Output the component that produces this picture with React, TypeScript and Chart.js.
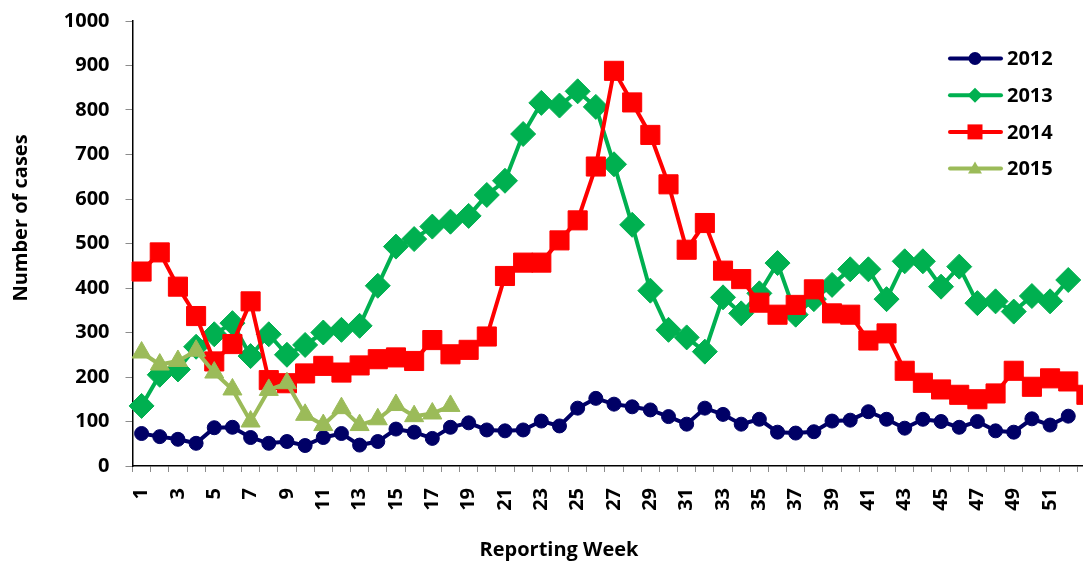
import React, { useEffect, useRef } from 'react';
import { Chart, registerables } from 'chart.js';

Chart.register(...registerables);

const weeks = ['1','2','3','4','5','6','7','8','9','10','11','12','13','14','15','16','17','18','19','20','21','22','23','24','25','26','27','28','29','30','31','32','33','34','35','36','37','38','39','40','41','42','43','44','45','46','47','48','49','50','51','52','53'];

const cases2012 = [73,66,60,51,86,87,64,51,55,46,64,73,47,55,83,76,62,87,97,81,79,81,101,90,130,152,139,133,126,111,94,130,116,94,105,76,74,77,101,103,122,105,85,105,100,87,100,79,76,106,92,112];
const cases2013 = [135,205,217,268,296,321,247,296,250,272,300,306,315,405,493,510,538,549,562,609,641,746,816,810,842,807,678,542,394,306,289,257,379,343,388,456,340,375,407,442,442,375,460,460,403,448,366,370,347,382,370,418];
const cases2014 = [437,480,403,337,235,274,370,193,186,208,225,210,226,240,244,236,283,251,261,291,427,457,457,507,552,673,888,817,744,633,486,546,439,420,367,340,362,397,343,340,282,298,214,187,172,160,150,163,214,178,197,190,160];
const cases2015 = [255,228,236,259,210,172,100,171,186,115,92,130,92,105,137,112,118,135];

const seriesNames = ['2012', '2013', '2014', '2015'];
const seriesColors = ['#000066', '#00B050', '#FF0000', '#9BBB59'];
const yTitle = 'Number of cases';
const xTitle = 'Reporting Week';

const FONT = '"Open Sans", "Liberation Sans", sans-serif';

function drawMarker(ctx: CanvasRenderingContext2D, style: string, x: number, y: number, s: number) {
  ctx.beginPath();
  if (style === 'circle') {
    ctx.arc(x, y, s, 0, Math.PI * 2);
  } else if (style === 'rectRot') {
    ctx.moveTo(x - s, y); ctx.lineTo(x, y - s); ctx.lineTo(x + s, y); ctx.lineTo(x, y + s);
    ctx.closePath();
  } else if (style === 'rect') {
    ctx.rect(x - s, y - s, 2 * s, 2 * s);
  } else {
    const h = s * 1.5;
    ctx.moveTo(x, y - h * 0.6); ctx.lineTo(x + s * 0.87, y + h * 0.4); ctx.lineTo(x - s * 0.87, y + h * 0.4);
    ctx.closePath();
  }
  ctx.fill();
}

const legendSizes = [6.5, 7.5, 7.5, 8];

const overlayPlugin = {
  id: 'overlay',
  afterDraw(chart: any) {
    const ctx: CanvasRenderingContext2D = chart.ctx;
    ctx.save();
    chart.data.datasets.forEach((ds: any, i: number) => {
      const y = 58.5 + i * 36.7;
      ctx.strokeStyle = ds.borderColor;
      ctx.lineWidth = 4;
      ctx.lineCap = 'round';
      ctx.beginPath();
      ctx.moveTo(950, y);
      ctx.lineTo(1001, y);
      ctx.stroke();
      ctx.fillStyle = ds.borderColor;
      drawMarker(ctx, ds.pointStyle, 975, y, legendSizes[i]);
      ctx.fillStyle = '#000';
      ctx.font = `bold 20px ${FONT}`;
      ctx.textBaseline = 'middle';
      ctx.textAlign = 'left';
      ctx.fillText(ds.label, 1007, y + 1);
    });
    ctx.fillStyle = '#000';
    ctx.font = `bold 20px ${FONT}`;
    ctx.textAlign = 'center';
    ctx.textBaseline = 'middle';
    ctx.fillText(xTitle, 559, 550);
    ctx.translate(21, 218);
    ctx.rotate(-Math.PI / 2);
    ctx.fillText(yTitle, 0, 0);
    ctx.restore();
  },
};

export default function App() {
  const ref = useRef<HTMLCanvasElement>(null);
  useEffect(() => {
    if (!ref.current) return;
    const series = [cases2012, cases2013, cases2014, cases2015];
    const styles = ['circle', 'rectRot', 'rect', 'triangle'];
    const radii = [7, 12.5, 13.5, 11];
    const chart = new Chart(ref.current, {
      type: 'line',
      data: {
        labels: weeks,
        datasets: series.map((d, i) => ({
          label: seriesNames[i],
          data: d,
          borderColor: seriesColors[i],
          backgroundColor: seriesColors[i],
          pointBackgroundColor: seriesColors[i],
          pointBorderColor: seriesColors[i],
          pointBorderWidth: 1,
          borderWidth: 4,
          pointStyle: styles[i] as any,
          pointRadius: radii[i],
          tension: 0,
          order: 4 - i,
        })),
      },
      options: {
        responsive: false,
        animation: false,
        layout: { padding: { top: 21, right: 0, left: 0, bottom: 0 } },
        plugins: { legend: { display: false }, tooltip: { enabled: false } },
        scales: {
          x: {
            type: 'category',
            offset: true,
            afterFit: (s: any) => { s.height = 97; s.paddingRight = 0; s.paddingLeft = 0; },
            grid: { offset: true, drawOnChartArea: false, drawTicks: true, tickLength: 6, color: '#8c8c8c', lineWidth: 1 },
            border: { color: '#000', width: 1.5 },
            ticks: {
              autoSkip: false,
              minRotation: 90,
              maxRotation: 90,
              padding: 16,
              color: '#000',
              font: { family: FONT, size: 20, weight: 'bold' },
              callback: (_v: any, idx: number) => (idx % 2 === 0 && idx < 52 ? weeks[idx] : ''),
            },
          },
          y: {
            min: 0,
            max: 1000,
            afterFit: (s: any) => { s.width = 132.5; s.paddingTop = 0; s.paddingBottom = 0; },
            grid: { drawOnChartArea: false, drawTicks: true, tickLength: 7, color: '#8c8c8c', lineWidth: 1 },
            border: { color: '#000', width: 1.5 },
            ticks: {
              stepSize: 100,
              padding: 16,
              color: '#000',
              font: { family: FONT, size: 20, weight: 'bold' },
              callback: (v: any) => String(v),
            },
          },
        },
      },
      plugins: [overlayPlugin],
    });
    return () => chart.destroy();
  }, []);
  return (
    <div style={{ position: 'fixed', left: 0, top: 0, width: 1083, height: 563, overflow: 'hidden', background: '#fff' }}>
      <canvas ref={ref} width={1110} height={563} style={{ width: 1110, height: 563, display: 'block' }} />
    </div>
  );
}
